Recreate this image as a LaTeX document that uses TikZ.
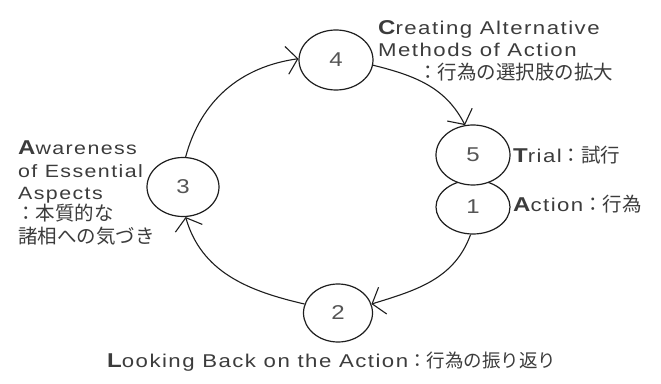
\documentclass[tikz,border=0pt]{standalone}
\usepackage{fontspec}
\setmainfont{Liberation Sans}[FakeStretch=1.2,LetterSpace=8]
\newfontfamily\cjk{Noto Sans CJK JP}
\usetikzlibrary{arrows.meta,shapes.geometric}
\definecolor{ink}{HTML}{1E1E1E}
\definecolor{txt}{HTML}{3C3C3C}
\definecolor{dig}{HTML}{555555}
\newcommand{\Ini}[1]{{\bfseries\fontsize{20}{20}\selectfont #1}}
\newcommand{\cjb}{\cjk\fontsize{19.5}{22}\selectfont}
\begin{document}
\begin{tikzpicture}[x=1pt,y=1pt,
  stage/.style={ellipse, draw=ink, line width=1.2pt, fill=white, inner sep=0pt,
    text=dig, font=\fontsize{20}{20}\selectfont},
  flow/.style={draw=ink, line width=1.1pt, -{Straight Barb[length=11pt,width=28pt]}},
  lbl/.style={anchor=base west, inner sep=0pt, text=txt, font=\fontsize{18.5}{22}\selectfont},
  lbls/.style={lbl, font=\fontsize{17.8}{22}\selectfont}]
\useasboundingbox (0,0) rectangle (661,383);
\fill[white] (0,0) rectangle (661,383);
\node[stage, minimum width=74pt, minimum height=60pt] (c4) at (336,323) {4};
\node[stage, minimum width=74pt, minimum height=54pt] (c1) at (473,176) {1};
\node[stage, minimum width=74pt, minimum height=60pt] (c5) at (473,228) {5};
\node[stage, minimum width=72pt, minimum height=59pt] (c3) at (183,196) {3};
\node[stage, minimum width=69pt, minimum height=58pt] (c2) at (338,70) {2};
\draw[flow] (c3.85) to[out=75,in=188] (c4.178);
\draw[flow] (c4.-8) to[out=-14,in=117] (c5.105);
\draw[flow] (c1.265) to[out=-110,in=17] (c2.15);
\draw[flow] (c2.165) to[out=167,in=-74] (c3.275);
\node[lbl] (t4a) at (378,348) {\Ini{C}reating Alternative};
\node[lbl] (t4b) at (378,326) {Methods of Action};
\node[lbl] (t4c) at (418,303) {\cjb ：行為の選択肢の拡大};
\node[lbl] (t5) at (513,220) {\Ini{T}rial\cjb ：試行};
\node[lbl] (t1) at (513,171) {\Ini{A}ction\cjb ：行為};
\node[lbls] (t3a) at (18,228) {\Ini{A}wareness};
\node[lbls] (t3b) at (18,205) {of Essential};
\node[lbls] (t3c) at (18,183) {Aspects};
\node[lbl] (t3d) at (16,162) {\cjb ：本質的な};
\node[lbl] (t3e) at (18,139) {\cjb 諸相への気づき};
\node[lbl] (t2) at (107,16) {\Ini{L}ooking Back on the Action\cjk ：行為の振り返り};
\end{tikzpicture}
\end{document}
